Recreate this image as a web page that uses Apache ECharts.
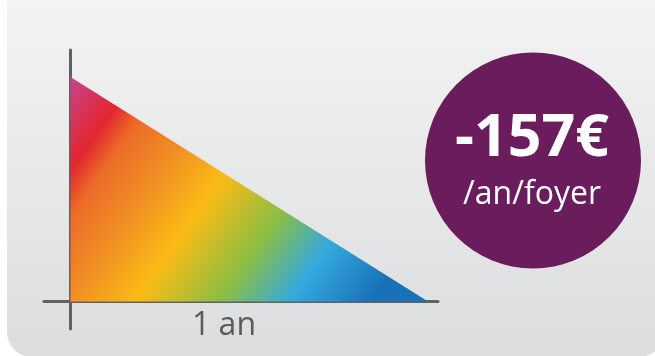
<!DOCTYPE html>
<html>
<head>
<meta charset="utf-8">
<script src="https://cdn.jsdelivr.net/npm/echarts@6/dist/echarts.min.js"></script>
<style>
  html, body { margin: 0; padding: 0; background: #fff; }
  #main { width: 655px; height: 356px; }
</style>
</head>
<body>
<div id="main"></div>
<script>
// la baisse : 157 euros au départ, 0 au bout d'un an
var points = [[0, 157], [1, 0]];
var xLabel = '1 an';
var bigValue = '-157€';
var unitText = '/an/foyer';

var chart = echarts.init(document.getElementById('main'));

var rainbow = new echarts.graphic.LinearGradient(0, 0, 0.964, 1.075, [
  { offset: 0, color: '#c7448f' },
  { offset: 0.128, color: '#e3262f' },
  { offset: 0.19, color: '#ec6b29' },
  { offset: 0.30, color: '#f08d25' },
  { offset: 0.432, color: '#fbbb15' },
  { offset: 0.596, color: '#8bbe43' },
  { offset: 0.732, color: '#35a9df' },
  { offset: 0.893, color: '#1870b6' },
  { offset: 1, color: '#1870b6' }
]);

var option = {
  backgroundColor: '#ffffff',
  animation: false,
  grid: {
    left: 44,
    right: 217,
    top: 50,
    bottom: 27
  },
  xAxis: {
    type: 'value',
    min: -0.0741,
    max: 1.028,
    axisLine: { lineStyle: { color: '#616161', width: 3 } },
    axisTick: { show: false },
    axisLabel: { show: false },
    splitLine: { show: false }
  },
  yAxis: {
    type: 'value',
    min: -19.2,
    max: 175.9,
    axisLine: { show: true, lineStyle: { color: '#616161', width: 3 } },
    axisTick: { show: false },
    axisLabel: { show: false },
    splitLine: { show: false }
  },
  series: [
    {
      type: 'line',
      data: points,
      symbol: 'none',
      lineStyle: { width: 0, opacity: 0 },
      areaStyle: { color: rainbow, opacity: 1 },
      z: 1
    }
  ],
  graphic: [
    {
      type: 'rect',
      z: -100,
      silent: true,
      shape: { x: 7, y: -30, width: 657, height: 387, r: [0, 0, 25, 25] },
      style: {
        fill: new echarts.graphic.LinearGradient(0, 0, 0, 1, [
          { offset: 0, color: '#f5f5f5' },
          { offset: 1, color: '#dcddde' }
        ])
      }
    },
    {
      type: 'text',
      z: 100,
      x: 224,
      y: 326,
      style: {
        text: xLabel,
        font: '32px "Open Sans"',
        fill: '#5b5b5b',
        textAlign: 'center',
        textVerticalAlign: 'middle'
      }
    },
    {
      type: 'circle',
      z: 100,
      shape: { cx: 533, cy: 160.5, r: 108 },
      style: { fill: '#6b1c5c' }
    },
    {
      type: 'text',
      z: 101,
      x: 532,
      y: 139,
      style: {
        text: bigValue,
        font: 'bold 59px "Open Sans"',
        fill: '#ffffff',
        textAlign: 'center',
        textVerticalAlign: 'middle'
      }
    },
    {
      type: 'text',
      z: 101,
      x: 532,
      y: 195,
      style: {
        text: unitText,
        font: '32px "Open Sans"',
        fill: '#ffffff',
        textAlign: 'center',
        textVerticalAlign: 'middle'
      }
    }
  ]
};

chart.setOption(option);
</script>
</body>
</html>
